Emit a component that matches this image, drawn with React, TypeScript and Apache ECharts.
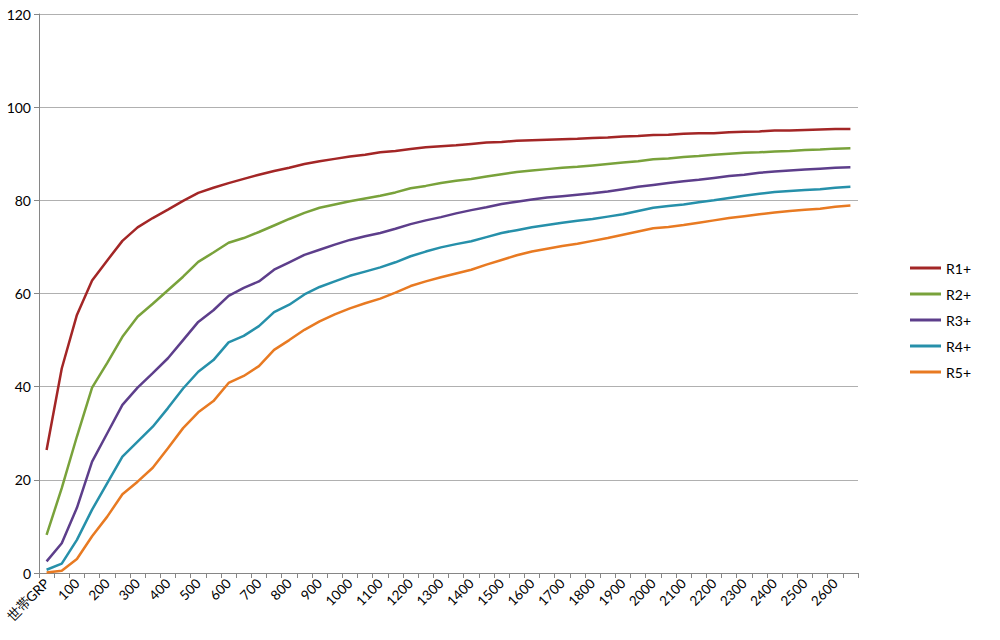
import React, { useEffect, useRef } from "react";
import * as echarts from "echarts";

const categories: string[] = ["世帯GRP"];
const grpSteps = [50,100,150,200,250,300,350,400,450,500,550,600,650,700,750,800,850,900,950,1000,1050,1100,1150,1200,1250,1300,1350,1400,1450,1500,1550,1600,1650,1700,1750,1800,1850,1900,1950,2000,2050,2100,2150,2200,2250,2300,2350,2400,2450,2500,2550,2600,2650];
grpSteps.forEach((v) => categories.push(String(v)));

const seriesNames = ["R1+", "R2+", "R3+", "R4+", "R5+"];

const r1 = [26.4,43.9,55.4,62.8,67.1,71.3,74.2,76.2,78.0,79.9,81.6,82.7,83.7,84.6,85.5,86.3,87.0,87.8,88.4,88.9,89.4,89.8,90.3,90.6,91.0,91.4,91.6,91.8,92.1,92.4,92.5,92.8,92.9,93.0,93.1,93.2,93.4,93.5,93.7,93.8,94.0,94.1,94.3,94.4,94.4,94.6,94.7,94.8,95.0,95.0,95.1,95.2,95.3,95.3];
const r2 = [8.2,18.2,29.3,39.8,45.1,50.7,55.0,57.8,60.7,63.6,66.8,68.8,70.9,71.9,73.2,74.6,76.0,77.3,78.4,79.1,79.8,80.4,81.0,81.7,82.6,83.1,83.7,84.2,84.6,85.1,85.6,86.1,86.4,86.7,87.0,87.2,87.5,87.8,88.1,88.4,88.8,89.0,89.3,89.5,89.8,90.0,90.2,90.3,90.5,90.6,90.8,90.9,91.1,91.2];
const r3 = [2.5,6.4,14.0,23.9,30.0,36.1,39.8,42.9,46.1,50.0,53.9,56.4,59.5,61.2,62.6,65.1,66.7,68.3,69.4,70.5,71.5,72.3,73.0,73.9,74.9,75.7,76.4,77.2,77.9,78.5,79.2,79.7,80.2,80.6,80.9,81.2,81.5,81.9,82.4,82.9,83.3,83.7,84.1,84.4,84.8,85.2,85.5,85.9,86.2,86.4,86.6,86.8,87.0,87.1];
const r4 = [0.7,2.0,7.1,13.6,19.3,25.0,28.2,31.4,35.4,39.6,43.2,45.7,49.5,50.9,53.0,56.0,57.6,59.8,61.4,62.6,63.8,64.7,65.6,66.7,68.0,69.0,69.9,70.6,71.2,72.1,73.0,73.6,74.2,74.7,75.2,75.6,76.0,76.5,77.0,77.7,78.4,78.8,79.1,79.6,80.0,80.5,81.0,81.4,81.8,82.0,82.2,82.4,82.7,82.9];
const r5 = [0.1,0.5,3.0,7.9,12.1,16.9,19.6,22.6,26.8,31.1,34.5,36.9,40.8,42.3,44.4,47.9,50.0,52.2,54.0,55.5,56.8,57.9,58.9,60.2,61.6,62.6,63.5,64.3,65.1,66.2,67.2,68.2,69.0,69.6,70.2,70.7,71.3,71.9,72.6,73.3,74.0,74.3,74.7,75.2,75.7,76.2,76.6,77.0,77.4,77.7,78.0,78.2,78.6,78.9];

const seriesData = [r1, r2, r3, r4, r5];
const colors = ["#a32626", "#79a23b", "#5d3e8b", "#2690aa", "#e87a22"];

export default function App() {
  const ref = useRef<HTMLDivElement>(null);
  useEffect(() => {
    if (!ref.current) return;
    const chart = echarts.init(ref.current, null, { renderer: "svg" });
    const font = "Lato, 'Open Sans', sans-serif";
    chart.setOption({
      animation: false,
      backgroundColor: "#ffffff",
      color: colors,
      grid: { left: 39, right: 142, top: 14, bottom: 67, containLabel: false },
      legend: {
        orient: "vertical",
        left: 905,
        top: 255,
        icon: "rect",
        itemWidth: 31,
        itemHeight: 3,
        itemGap: 10,
        textStyle: { fontFamily: font, fontSize: 14, color: "#000", lineHeight: 16 },
        data: seriesNames,
      },
      xAxis: {
        type: "category",
        data: categories,
        boundaryGap: true,
        axisLine: { lineStyle: { color: "#868686", width: 1 } },
        axisTick: { show: true, interval: 0, length: 5, lineStyle: { color: "#868686" } },
        axisLabel: {
          interval: 1,
          rotate: 45,
          fontFamily: font,
          fontSize: 13.5,
          color: "#000",
          margin: 8,
        },
        splitLine: { show: false },
      },
      yAxis: {
        type: "value",
        min: 0,
        max: 120,
        interval: 20,
        axisLine: { show: true, lineStyle: { color: "#868686", width: 1 } },
        axisTick: { show: true, length: 5, lineStyle: { color: "#868686" } },
        axisLabel: { fontFamily: font, fontSize: 14, color: "#000", margin: 8 },
        splitLine: { show: true, lineStyle: { color: "#b0b0b0", width: 1 } },
      },
      series: seriesNames.map((name, i) => ({
        name,
        type: "line",
        data: seriesData[i],
        symbol: "none",
        smooth: false,
        lineStyle: { width: 2.5, color: colors[i] },
        itemStyle: { color: colors[i] },
      })),
    });
    return () => chart.dispose();
  }, []);
  return <div ref={ref} style={{ width: 1000, height: 640, position: "absolute", left: 0, top: 0 }} />;
}
